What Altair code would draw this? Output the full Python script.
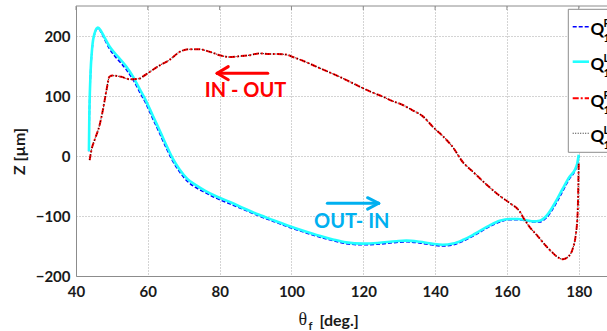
import altair as alt
import pandas as pd

# ---- data ----
theta_outin = [43.6, 43.7, 44.0, 44.5, 45.2, 46.1, 47.0, 48.0, 49.3, 51.0, 52.5, 54.0, 56.0, 57.7,
               59.5, 61.4, 63.5, 65.0, 67.0, 68.8, 71.0, 73.5, 76.0, 79.0, 83.0, 87.0, 91.0, 95.0,
               99.5, 103.5, 107.8, 111.5, 115.2, 119.8, 124.0, 129.2, 132.0, 135.7, 139.0, 142.1,
               145.0, 147.7, 151.0, 155.1, 158.0, 160.7, 163.0, 165.4, 167.5, 169.1, 171.0, 173.7,
               175.5, 177.4, 179.0, 179.6, 180.0]
z_outin_L = [8, 60, 130, 180, 205, 214, 208, 197, 183, 170, 160, 149, 131, 112, 92, 67, 40, 20, -5,
             -22, -38, -49, -58, -67, -77, -88, -98, -107, -117, -125, -133, -139, -144, -146, -145,
             -142, -141, -143, -146, -148, -146, -140, -130, -116, -108, -105, -105, -107, -109,
             -108, -100, -75, -55, -35, -22, -12, 2]
z_outin_R = [8, 58, 128, 178, 204, 213, 206, 194, 179, 165, 155, 144, 126, 107, 87, 62, 35, 15, -9,
             -26, -42, -53, -61, -70, -80, -90, -100, -109, -119, -127, -135, -141, -146, -148, -147,
             -144, -143, -145, -148, -150, -148, -142, -132, -118, -110, -106, -106, -108, -110,
             -110, -103, -79, -59, -38, -24, -14, 0]

theta_inout = [180.0, 179.9, 179.8, 179.6, 179.2, 178.3, 177.2, 175.6, 174.0, 172.5, 170.9, 168.5,
               166.3, 164.9, 163.5, 160.7, 157.9, 154.2, 150.5, 147.7, 144.9, 142.0, 139.8, 136.6,
               133.5, 131.0, 128.0, 125.4, 122.5, 119.9, 116.5, 113.4, 110.0, 106.9, 103.5, 100.4,
               98.5, 96.0, 93.9, 91.1, 88.3, 85.0, 82.7, 80.0, 78.1, 76.0, 74.4, 71.6, 69.0, 66.0,
               63.0, 60.5, 58.5, 57.7, 54.9, 52.6, 50.2, 49.3, 48.5, 47.5, 46.5, 45.2, 44.3, 43.8]
z_inout_R = [-12, -40, -75, -105, -130, -155, -167, -172, -168, -160, -150, -133, -118, -106, -92,
             -78, -66, -47, -26, -10, 15, 34, 46, 66, 77, 85, 92, 99, 106, 113, 123, 132, 141, 149,
             158, 165, 169, 170, 170, 171, 168, 166, 165, 168, 172, 176, 178, 178, 174, 160, 150,
             140, 132, 129, 128, 132, 134, 132, 110, 77, 50, 27, 10, -7]
z_inout_L = [-12, -40, -75, -105, -130, -155, -167, -172, -168, -160, -150, -133, -118, -106, -92,
             -78, -66, -47, -26, -10, 15, 34, 46, 66, 77, 85, 92, 99, 106, 113, 123, 132, 141, 149,
             158, 165, 169, 170, 170, 171, 168, 166, 165, 168, 172, 176, 178, 178, 174, 160, 150,
             140, 132, 129, 128, 132, 134, 132, 110, 77, 50, 27, 10, -7]

x_ticks = [40, 60, 80, 100, 120, 140, 160, 180]
y_ticks = [-200, -100, 0, 100, 200]

legend_sup = ["R", "L", "R", "L"]
legend_sub = ["1", "1", "1", "1"]

# annotations (data coordinates)
arrow_x = [79.3, 79.3, 79.3, 124.3, 124.3, 124.3]
arrow_y = [137.8, 137.8, 137.8, -78.8, -78.8, -78.8]
arrow_x2 = [93.4, 82.4, 82.4, 110.0, 121.2, 121.2]
arrow_y2 = [137.8, 149.0, 127.0, -78.8, -69.5, -88.5]
arrow_col = ["#FF0000"] * 3 + ["#00B0F0"] * 3
note_text = ["IN - OUT", "OUT- IN"]
note_x = [87.2, 116.8]
note_y = [109.0, -110.8]
note_col = ["#FF0000", "#00B0F0"]

W, H = 531, 270
XDOM = [40, 40 + W / 3.591]
YDOM = [-200, 250]

xs = alt.Scale(domain=XDOM, nice=False, zero=False)
ys = alt.Scale(domain=YDOM, nice=False, zero=False)

LBL = dict(labelFont="Lato", labelFontWeight="bold", labelFontSize=15, labelColor="#1a1a1a")
GRID = dict(grid=True, gridDash=[1, 2], gridColor="#a8a8a8", gridWidth=1,
            domainColor="#8c8c8c", domainWidth=1, tickSize=0, title=None)

def series(th, z):
    return pd.DataFrame({"theta": th, "z": z})

def line(df, **kw):
    return alt.Chart(df).mark_line(interpolate="monotone", **kw).encode(
        x=alt.X("theta:Q", scale=xs,
                axis=alt.Axis(values=x_ticks, labelFlush=False, labelPadding=8, **LBL, **GRID)),
        y=alt.Y("z:Q", scale=ys,
                axis=alt.Axis(values=y_ticks, labelPadding=6, **LBL, **GRID)),
    )

STY_BLUE = dict(color="#0000FF", strokeWidth=1.6, strokeDash=[4, 2])
STY_CYAN = dict(color="#22FFFF", strokeWidth=2.6)
STY_RED = dict(color="#FF0000", strokeWidth=2.0, strokeDash=[6, 2, 2, 2])
STY_BLK = dict(color="#000000", strokeWidth=1.1, strokeDash=[1, 1.5], opacity=0.85)

l_blue = line(series(theta_outin, z_outin_R), **STY_BLUE)
l_cyan = line(series(theta_outin, z_outin_L), **STY_CYAN)
l_red = line(series(theta_inout, z_inout_R), **STY_RED)
l_blk = line(series(theta_inout, z_inout_L), **STY_BLK)

# top frame + top ticks
top_border = alt.Chart(pd.DataFrame({"a": [0]})).mark_rule(color="#8c8c8c", strokeWidth=1).encode(
    x=alt.value(0), x2=alt.value(W), y=alt.value(0))
top_ticks = alt.Chart(pd.DataFrame({"t": x_ticks})).mark_rule(color="#8c8c8c", strokeWidth=1).encode(
    x=alt.X("t:Q", scale=xs), y=alt.value(0), y2=alt.value(4))

# arrows and notes
arr_df = pd.DataFrame({"x": arrow_x, "y": arrow_y, "x2": arrow_x2, "y2": arrow_y2, "c": arrow_col})
arrows = alt.Chart(arr_df).mark_rule(strokeWidth=3, strokeCap="round").encode(
    x=alt.X("x:Q", scale=xs), y=alt.Y("y:Q", scale=ys),
    x2="x2:Q", y2="y2:Q", color=alt.Color("c:N", scale=None))
note_df = pd.DataFrame({"t": note_text, "x": note_x, "y": note_y, "c": note_col})
notes = alt.Chart(note_df).mark_text(font="Lato", fontWeight="bold", fontSize=20,
                                     align="center", baseline="middle").encode(
    x=alt.X("x:Q", scale=xs), y=alt.Y("y:Q", scale=ys), text="t:N",
    color=alt.Color("c:N", scale=None))

# axis titles
one = pd.DataFrame({"a": [0]})
ytitle = alt.Chart(one).mark_text(text="Z [µm]", font="Lato", fontWeight="bold", fontSize=16,
                                  angle=270, align="center", baseline="middle", color="#1a1a1a").encode(
    x=alt.value(-56.5), y=alt.value(145.5))
xt_theta = alt.Chart(one).mark_text(text="θ", font="Liberation Serif", fontSize=18,
                                    align="center", baseline="middle", color="#1a1a1a").encode(
    x=alt.value(226.7), y=alt.value(314.0))
xt_f = alt.Chart(one).mark_text(text="f", font="Lato", fontWeight="bold", fontSize=11,
                                align="center", baseline="alphabetic", color="#1a1a1a").encode(
    x=alt.value(234.5), y=alt.value(323.5))
xt_deg = alt.Chart(one).mark_text(text="[deg.]", font="Lato", fontWeight="bold", fontSize=16,
                                  align="left", baseline="middle", color="#1a1a1a").encode(
    x=alt.value(243.5), y=alt.value(314.5))

# legend (clipped by the window edge, as in the reference)
leg_box = alt.Chart(one).mark_rect(fill="white", stroke="#8c8c8c", strokeWidth=1).encode(
    x=alt.value(492.3), x2=alt.value(560), y=alt.value(3.3), y2=alt.value(146.3))
LY = [20.7, 55.7, 92.3, 127.3]
leg_styles = [STY_BLUE, STY_CYAN, STY_RED, STY_BLK]
leg_layers = [leg_box]
for ly, st, sup, sub in zip(LY, leg_styles, legend_sup, legend_sub):
    leg_layers.append(alt.Chart(one).mark_rule(**st).encode(
        x=alt.value(496.7), x2=alt.value(513), y=alt.value(ly)))
    leg_layers.append(alt.Chart(one).mark_text(text="Q", font="Lato", fontWeight="bold", fontSize=17,
                                               align="left", baseline="alphabetic", color="#000000").encode(
        x=alt.value(514.5), y=alt.value(ly + 8.5)))
    leg_layers.append(alt.Chart(one).mark_text(text=sup, font="Lato", fontWeight="bold", fontSize=11,
                                               align="left", baseline="alphabetic", color="#000000").encode(
        x=alt.value(527.5), y=alt.value(ly + 0.5)))
    leg_layers.append(alt.Chart(one).mark_text(text=sub, font="Lato", fontWeight="bold", fontSize=11,
                                               align="left", baseline="alphabetic", color="#000000").encode(
        x=alt.value(527.5), y=alt.value(ly + 15.5)))

chart = alt.layer(
    l_blue, l_cyan, l_red, l_blk, top_border, top_ticks, arrows, notes,
    ytitle, xt_theta, xt_f, xt_deg, *leg_layers
).properties(
    width=W, height=H,
    autosize=alt.AutoSizeParams(type="none"),
    padding={"left": 76, "top": 6, "right": 0, "bottom": 55},
    background="white",
).configure_view(strokeWidth=0)

chart.save("out.html", embed_options={"renderer": "svg", "actions": False})
